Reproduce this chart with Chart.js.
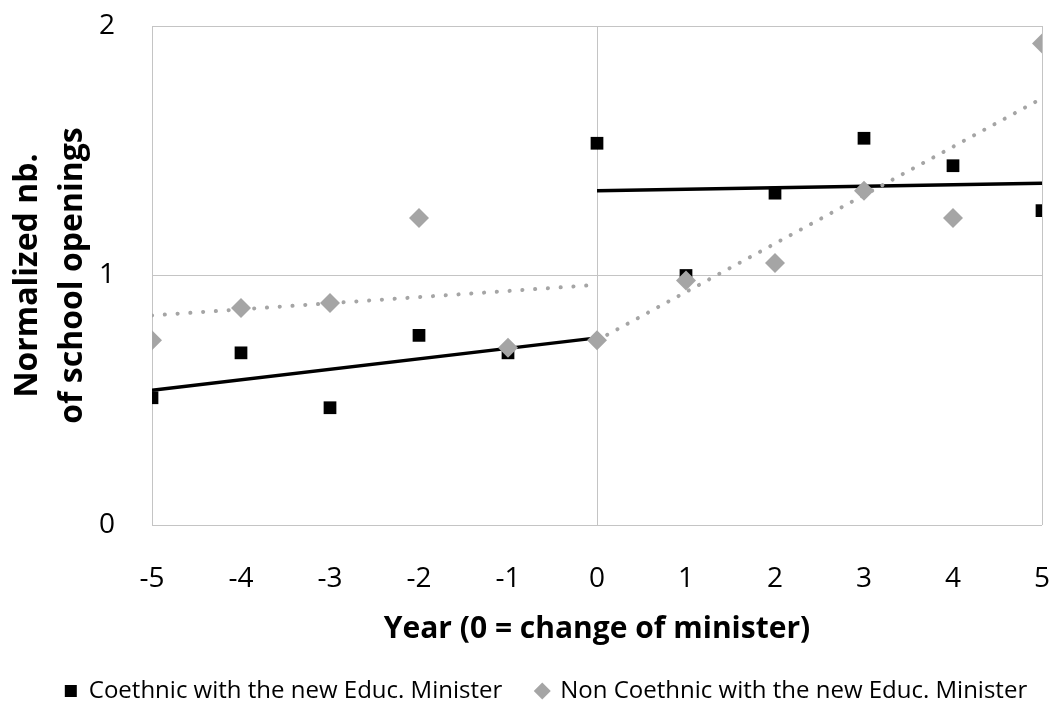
<!DOCTYPE html>
<html>
<head>
<meta charset="utf-8">
<script src="https://cdn.jsdelivr.net/npm/chart.js@4/dist/chart.umd.min.js"></script>
<style>
  html, body { margin: 0; padding: 0; background: #fff; }
  #wrap { width: 1055px; height: 708px; }
</style>
</head>
<body>
<div id="wrap"><canvas id="c" width="1055" height="708"></canvas></div>
<script>
// ---- data ----
const years = [-5, -4, -3, -2, -1, 0, 1, 2, 3, 4, 5];
const coethnic = [0.51, 0.69, 0.47, 0.76, 0.69, 1.53, 1.00, 1.33, 1.55, 1.44, 1.26];
const nonCoethnic = [0.74, 0.87, 0.89, 1.23, 0.71, 0.74, 0.98, 1.05, 1.34, 1.23, 1.93];

// trend line end points (year, value)
const coethnicTrendPreX = [-5, 0];
const coethnicTrendPreY = [0.54, 0.75];
const coethnicTrendPostX = [0, 5];
const coethnicTrendPostY = [1.34, 1.37];
const nonTrendPreX = [-5, -0.1];
const nonTrendPreY = [0.84, 0.96];
const nonTrendPostX = [0, 5];
const nonTrendPostY = [0.74, 1.71];

const yTicks = [0, 1, 2];
const seriesNames = ['Coethnic with the new Educ. Minister', 'Non Coethnic with the new Educ. Minister'];
const xTitle = 'Year (0 = change of minister)';
const yTitle = ['Normalized nb.', 'of school openings'];

const pts = (xs, ys) => xs.map((x, i) => ({x: x, y: ys[i]}));

const BLACK = '#000000';
const GRAY = '#a5a5a5';
const GRID = '#c4c4c4';
const FONT = 'Open Sans';
const LEGEND_FONT = 24;
const LEGEND_PAD = 34;

// place the legend row where the reference has it
const legendShift = {
  id: 'legendShift',
  afterLayout(chart) {
    const lg = chart.legend;
    if (!lg) return;
    const dx = 25, dy = 691 - (lg.top + LEGEND_PAD + LEGEND_FONT / 2);
    lg.left += dx; lg.right += dx;
    lg.top += dy; lg.bottom += dy;
  }
};

const noAutoPad = (s) => { s.paddingTop = 0; s.paddingBottom = 0; s.paddingLeft = 0; s.paddingRight = 0; };

new Chart(document.getElementById('c'), {
  type: 'scatter',
  data: {
    datasets: [
      {
        label: seriesNames[0],
        data: pts(years, coethnic),
        pointStyle: 'rect',
        pointRadius: 9,
        pointHoverRadius: 9,
        backgroundColor: BLACK,
        borderColor: BLACK,
        borderWidth: 0,
        order: 1
      },
      {
        label: seriesNames[1],
        data: pts(years, nonCoethnic),
        pointStyle: 'rectRot',
        pointRadius: 10,
        pointHoverRadius: 10,
        backgroundColor: GRAY,
        borderColor: GRAY,
        borderWidth: 0,
        order: 0
      },
      {
        label: 'trend1', type: 'line', data: pts(coethnicTrendPreX, coethnicTrendPreY),
        borderColor: BLACK, borderWidth: 3.5, pointRadius: 0, fill: false, order: 3
      },
      {
        label: 'trend2', type: 'line', data: pts(coethnicTrendPostX, coethnicTrendPostY),
        borderColor: BLACK, borderWidth: 3.5, pointRadius: 0, fill: false, order: 3
      },
      {
        label: 'trend3', type: 'line', data: pts(nonTrendPreX, nonTrendPreY),
        borderColor: GRAY, borderWidth: 4, borderDash: [0.1, 12.7], borderCapStyle: 'round',
        pointRadius: 0, fill: false, order: 2
      },
      {
        label: 'trend4', type: 'line', data: pts(nonTrendPostX, nonTrendPostY),
        borderColor: GRAY, borderWidth: 4, borderDash: [0.1, 11.5], borderCapStyle: 'round',
        pointRadius: 0, fill: false, order: 2
      }
    ]
  },
  options: {
    responsive: false,
    animation: false,
    layout: { padding: { left: 0, right: 13, top: 26, bottom: 0 } },
    plugins: {
      tooltip: { enabled: false },
      legend: {
        position: 'bottom',
        labels: {
          usePointStyle: true,
          boxWidth: 12,
          boxHeight: 12,
          font: { family: FONT, size: LEGEND_FONT },
          color: '#000',
          padding: LEGEND_PAD,
          sort: (a, b) => a.datasetIndex - b.datasetIndex,
          filter: (item) => item.datasetIndex < 2
        }
      }
    },
    scales: {
      x: {
        type: 'linear',
        min: -5, max: 5,
        afterFit: (s) => { noAutoPad(s); s.height = 708 - 525 - (s.chart.legend ? s.chart.legend.height : 68); },
        ticks: {
          stepSize: 1,
          padding: 37,
          font: { family: FONT, size: 28 },
          color: '#000'
        },
        grid: {
          drawTicks: false,
          color: (ctx) => (ctx.tick && ctx.tick.value % 5 === 0) ? GRID : 'rgba(0,0,0,0)',
          lineWidth: 1
        },
        border: { display: false },
        title: {
          display: true,
          text: xTitle,
          font: { family: FONT, size: 30, weight: 'bold' },
          color: '#000',
          padding: { top: 0, bottom: -7 }
        }
      },
      y: {
        type: 'linear',
        min: 0, max: 2,
        afterFit: (s) => { noAutoPad(s); s.width = 152; },
        afterBuildTicks: (s) => { s.ticks = yTicks.map(v => ({value: v})); },
        ticks: {
          padding: 37,
          font: { family: FONT, size: 28 },
          color: '#000'
        },
        grid: { drawTicks: false, color: GRID, lineWidth: 1 },
        border: { display: false },
        title: {
          display: true,
          text: yTitle,
          font: { family: FONT, size: 32, weight: 'bold', lineHeight: 1.42 },
          color: '#000',
          padding: { top: 5, bottom: 0 }
        }
      }
    }
  },
  plugins: [legendShift]
});
</script>
</body>
</html>
